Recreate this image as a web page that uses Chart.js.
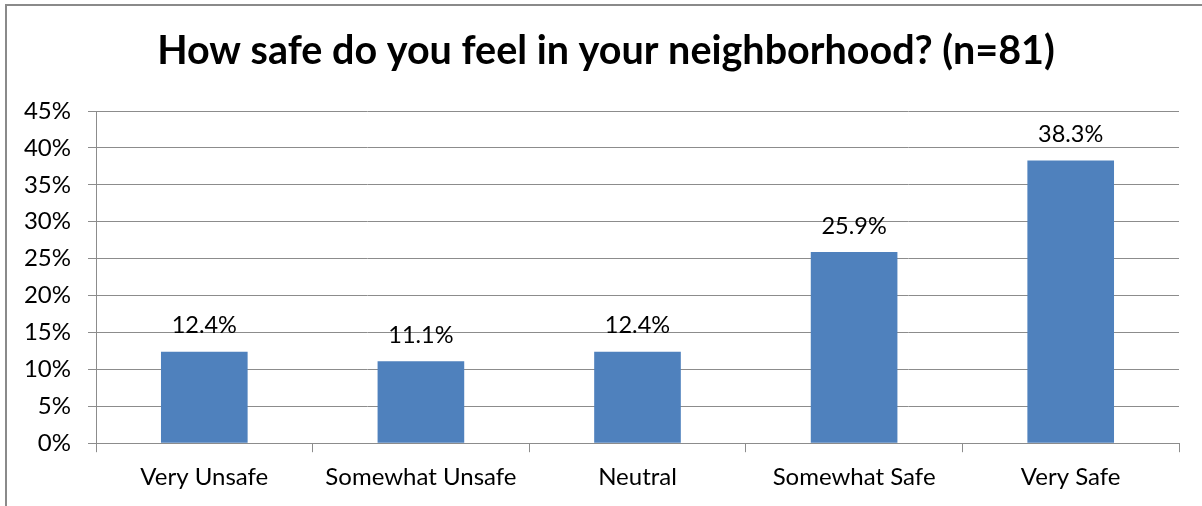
<!DOCTYPE html>
<html>
<head>
<meta charset="utf-8">
<script src="https://cdn.jsdelivr.net/npm/chart.js@4.4.1/dist/chart.umd.min.js"></script>
<style>
  html, body { margin: 0; padding: 0; background: #fff; overflow: hidden; }
  #frame { position: absolute; left: 5px; top: 4px; width: 1400px; height: 700px; border: 2px solid #8a8a8a; }
  #wrap { position: absolute; left: 0; top: 0; width: 1202px; height: 506px; }
</style>
</head>
<body>
<div id="frame"></div>
<div id="wrap"><canvas id="safetyChart" width="1202" height="506"></canvas></div>
<script>
// survey results
const categories = ["Very Unsafe", "Somewhat Unsafe", "Neutral", "Somewhat Safe", "Very Safe"];
const percents = [12.4, 11.1, 12.4, 25.9, 38.3];
const chartTitle = "How safe do you feel in your neighborhood? (n=81)";

const FONT = "Lato, 'Open Sans', sans-serif";
const GRID = "#8c8c8c";

// title centred over the framed box rather than the canvas
const boxTitle = {
  id: "boxTitle",
  afterDraw(chart) {
    const ctx = chart.ctx;
    ctx.save();
    ctx.font = "bold 39.5px " + FONT;
    ctx.fillStyle = "#000";
    ctx.textAlign = "center";
    ctx.textBaseline = "middle";
    ctx.fillText(chartTitle, 606, 51);
    ctx.restore();
  }
};

// value labels above each bar
const barLabels = {
  id: "barLabels",
  afterDatasetsDraw(chart) {
    const ctx = chart.ctx;
    const meta = chart.getDatasetMeta(0);
    ctx.save();
    ctx.font = "23.5px " + FONT;
    ctx.fillStyle = "#000";
    ctx.textAlign = "center";
    ctx.textBaseline = "middle";
    meta.data.forEach((bar, i) => {
      ctx.fillText(percents[i].toFixed(1) + "%", bar.x, bar.y - 26);
    });
    ctx.restore();
  }
};

new Chart(document.getElementById("safetyChart"), {
  type: "bar",
  data: {
    labels: categories,
    datasets: [{
      data: percents,
      backgroundColor: "#4f81bd",
      barPercentage: 0.4,
      categoryPercentage: 1.0
    }]
  },
  options: {
    responsive: false,
    animation: false,
    layout: { padding: { left: 0, right: 23, top: 111, bottom: 3 } },
    plugins: {
      legend: { display: false },
      tooltip: { enabled: false },
      title: { display: false }
    },
    scales: {
      x: {
        grid: { offset: true, drawOnChartArea: false, drawTicks: true, tickLength: 9, color: GRID },
        border: { color: GRID },
        ticks: { color: "#000", font: { family: FONT, size: 24 }, padding: 11, maxRotation: 0 }
      },
      y: {
        min: 0,
        max: 45,
        afterFit(scale) { scale.width = 96; },
        grid: { color: GRID, tickLength: 8 },
        border: { color: GRID },
        ticks: {
          stepSize: 5,
          color: "#000",
          font: { family: FONT, size: 24 },
          padding: 17,
          callback: (v) => v + "%"
        }
      }
    }
  },
  plugins: [barLabels, boxTitle]
});
</script>
</body>
</html>
